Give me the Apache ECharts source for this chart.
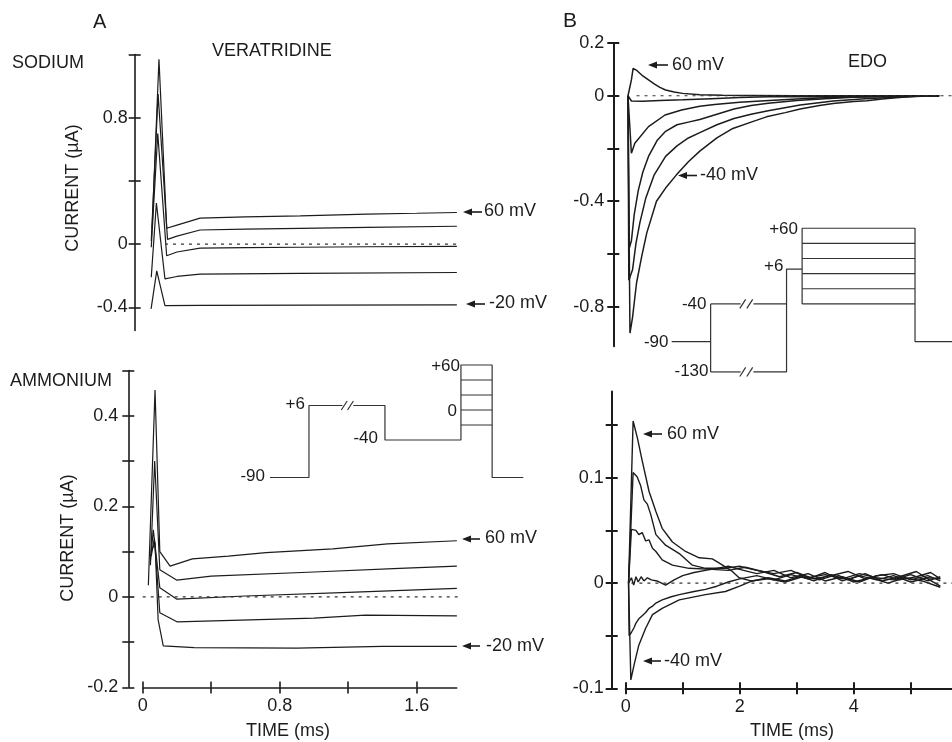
<!DOCTYPE html>
<html>
<head>
<meta charset="utf-8">
<script src="https://cdn.jsdelivr.net/npm/echarts@6/dist/echarts.min.js"></script>
<style>html,body{margin:0;padding:0;background:#fff}#c{width:952px;height:742px}</style>
</head>
<body>
<div id="c"></div>
<script>
// ---------- DATA (time in ms, current in µA) ----------
// Panel A, top: SODIUM + VERATRIDINE
const na60  = [[0.055,0.10],[0.095,1.17],[0.14,0.10],[0.2,0.12],[0.335,0.164],[0.6,0.172],[0.92,0.178],[1.31,0.189],[1.6,0.195],[1.835,0.20]];
const na40  = [[0.05,0.02],[0.09,0.95],[0.145,0.03],[0.2,0.05],[0.335,0.089],[0.6,0.095],[0.92,0.10],[1.31,0.106],[1.835,0.113]];
const na20  = [[0.05,-0.02],[0.088,0.70],[0.14,-0.074],[0.2,-0.05],[0.335,-0.026],[0.6,-0.022],[0.92,-0.02],[1.31,-0.017],[1.835,-0.015]];
const na0   = [[0.05,-0.21],[0.08,0.26],[0.13,-0.22],[0.2,-0.205],[0.335,-0.19],[0.92,-0.185],[1.835,-0.18]];
const naM20 = [[0.049,-0.41],[0.082,-0.17],[0.13,-0.39],[0.335,-0.388],[1.0,-0.386],[1.835,-0.385]];
// Panel A, bottom: AMMONIUM
const nh60  = [[0.033,0.026],[0.072,0.457],[0.1,0.10],[0.16,0.068],[0.29,0.084],[0.5,0.090],[0.72,0.098],[1.11,0.106],[1.43,0.117],[1.835,0.124]];
const nh40  = [[0.045,0.07],[0.07,0.30],[0.1,0.06],[0.2,0.037],[0.4,0.046],[1.0,0.055],[1.5,0.063],[1.835,0.068]];
const nh20  = [[0.045,0.08],[0.062,0.148],[0.1,0.02],[0.2,-0.005],[0.6,0.002],[1.2,0.01],[1.835,0.019]];
const nh0   = [[0.05,0.09],[0.068,0.13],[0.1,-0.035],[0.2,-0.055],[1.0,-0.047],[1.3,-0.04],[1.835,-0.042]];
const nhM20 = [[0.05,0.10],[0.072,0.12],[0.09,-0.05],[0.12,-0.108],[0.3,-0.112],[0.9,-0.113],[1.4,-0.109],[1.835,-0.109]];
// Panel B, top: EDO sodium
const edoT60  = [[0.04,0],[0.1,0.06],[0.13,0.104],[0.2,0.095],[0.3,0.075],[0.4,0.06],[0.5,0.045],[0.6,0.032],[0.7,0.022],[0.85,0.014],[1.0,0.009],[1.3,0.004],[1.7,0.002],[2.2,0.001],[3.0,0],[5.5,0]];
const edoT40  = [[0.04,0],[0.1,-0.02],[0.3,-0.021],[0.6,-0.018],[1.0,-0.015],[1.5,-0.011],[2.0,-0.007],[2.5,-0.004],[3.0,-0.003],[3.5,-0.004],[4.0,-0.002],[4.5,-0.001],[5.5,0]];
const edoT20  = [[0.04,0],[0.1,-0.218],[0.16,-0.18],[0.4,-0.117],[0.69,-0.073],[0.98,-0.054],[1.3,-0.04],[1.56,-0.033],[2.0,-0.025],[2.44,-0.019],[3.0,-0.012],[3.5,-0.008],[4.0,-0.005],[4.5,-0.003],[5.5,0]];
const edoT0   = [[0.04,0],[0.06,-0.58],[0.1,-0.55],[0.15,-0.45],[0.22,-0.36],[0.3,-0.29],[0.4,-0.23],[0.55,-0.17],[0.7,-0.135],[0.9,-0.11],[1.1,-0.1],[1.3,-0.09],[1.6,-0.07],[1.9,-0.05],[2.2,-0.037],[2.5,-0.028],[3.0,-0.018],[3.5,-0.011],[4.0,-0.006],[4.5,-0.003],[5.0,0],[5.5,0]];
const edoTM20 = [[0.04,0],[0.055,-0.70],[0.12,-0.66],[0.18,-0.56],[0.25,-0.48],[0.35,-0.39],[0.5,-0.30],[0.7,-0.23],[0.9,-0.19],[1.1,-0.16],[1.3,-0.14],[1.6,-0.11],[1.9,-0.086],[2.2,-0.07],[2.5,-0.057],[3.06,-0.035],[3.64,-0.02],[4.2,-0.011],[4.8,-0.005],[5.2,-0.002],[5.5,0]];
const edoTM40 = [[0.04,0],[0.075,-0.90],[0.12,-0.84],[0.19,-0.71],[0.28,-0.61],[0.37,-0.52],[0.54,-0.40],[0.7,-0.35],[0.89,-0.30],[1.1,-0.25],[1.3,-0.21],[1.6,-0.16],[1.88,-0.124],[2.2,-0.10],[2.47,-0.08],[2.8,-0.064],[3.06,-0.05],[3.4,-0.037],[3.64,-0.029],[4.0,-0.022],[4.23,-0.019],[4.5,-0.012],[4.8,-0.007],[5.1,-0.002],[5.5,0]];
// Panel B, bottom: EDO ammonium
const edoB60  = [[0.05,0],[0.13,0.154],[0.205,0.138],[0.29,0.116],[0.41,0.087],[0.53,0.068],[0.64,0.052],[0.82,0.039],[1.05,0.030],[1.29,0.024],[1.52,0.023],[1.70,0.017],[1.87,0.011],[1.99,0.005],[2.2,0.002],[2.5,0.004],[2.8,0.001],[3.1,0.006],[3.3,0.002],[3.6,0.008],[3.9,0.003],[4.2,0.009],[4.5,0.002],[4.8,0.006],[5.1,0.011],[5.3,0.004],[5.52,-0.003]];
const edoB40  = [[0.05,0],[0.13,0.105],[0.2,0.101],[0.26,0.093],[0.32,0.079],[0.38,0.075],[0.44,0.065],[0.53,0.046],[0.7,0.036],[0.94,0.028],[1.17,0.017],[1.4,0.014],[1.75,0.014],[2.0,0.016],[2.3,0.012],[2.6,0.009],[2.9,0.012],[3.2,0.005],[3.5,0.008],[3.8,0.004],[4.1,0.009],[4.4,0.005],[4.7,0.003],[5.0,0.008],[5.3,0.002],[5.52,0.006]];
const edoB20  = [[0.05,0],[0.1,0.051],[0.18,0.050],[0.23,0.046],[0.29,0.048],[0.35,0.040],[0.41,0.041],[0.47,0.033],[0.53,0.030],[0.64,0.022],[0.82,0.017],[1.11,0.014],[1.52,0.013],[1.8,0.012],[2.1,0.015],[2.4,0.011],[2.7,0.006],[3.0,0.010],[3.3,0.004],[3.6,0.007],[3.9,0.011],[4.2,0.004],[4.5,0.008],[4.8,0.003],[5.1,0.006],[5.35,0.010],[5.52,0.004]];
const edoB0   = [[0.05,0],[0.1,0.005],[0.14,-0.002],[0.18,0.006],[0.22,0.001],[0.27,0.006],[0.32,0.002],[0.38,0.005],[0.45,0.003],[0.55,0.002],[0.7,-0.002],[0.85,0.003],[1.0,0.007],[1.2,0.010],[1.4,0.012],[1.6,0.014],[1.8,0.016],[2.0,0.013],[2.3,0.009],[2.6,0.012],[2.9,0.005],[3.2,0.009],[3.5,0.002],[3.8,0.006],[4.1,0.001],[4.4,0.007],[4.7,0.009],[5.0,0.003],[5.3,0.007],[5.52,0.002]];
const edoBM20 = [[0.05,0],[0.06,-0.05],[0.1,-0.047],[0.15,-0.042],[0.18,-0.038],[0.23,-0.034],[0.29,-0.031],[0.35,-0.028],[0.41,-0.024],[0.47,-0.022],[0.53,-0.019],[0.64,-0.016],[0.8,-0.013],[0.94,-0.011],[1.2,-0.008],[1.4,-0.006],[1.6,-0.003],[1.8,0.001],[2.0,0.004],[2.3,0.007],[2.6,0.003],[2.9,0.008],[3.2,0.004],[3.5,0.010],[3.8,0.002],[4.1,0.007],[4.4,0.003],[4.7,0.007],[5.0,0.001],[5.3,0.005],[5.52,0.004]];
const edoBM40 = [[0.05,0],[0.09,-0.092],[0.15,-0.077],[0.23,-0.059],[0.35,-0.043],[0.47,-0.030],[0.64,-0.024],[0.94,-0.016],[1.4,-0.011],[1.75,-0.008],[2.0,-0.003],[2.22,0.002],[2.5,0.005],[2.8,0.002],[3.1,0.007],[3.4,0.003],[3.7,0.008],[4.0,0.001],[4.3,0.005],[4.6,0.000],[4.9,0.005],[5.2,0.002],[5.52,-0.004]];
// zero reference lines
const zeroA_top = [[0.13,0],[1.92,0]];
const zeroA_bot = [[0,0],[1.92,0]];
const zeroB_top = [[0.19,0],[5.725,0]];
const zeroB_bot = [[0.1,0],[5.725,0]];
// tick values / labels
const ticksA_top = [-0.4,0,0.4,0.8,1.2],  labelsA_top = [-0.4,0,0.8];
const ticksA_bot = [-0.2,-0.1,0,0.1,0.2,0.3,0.4,0.5], labelsA_bot = [-0.2,0,0.2,0.4];
const ticksA_x = [0,0.4,0.8,1.2,1.6], labelsA_x = [0,0.8,1.6];
const ticksB_top = [-0.8,-0.6,-0.4,-0.2,0,0.2], labelsB_top = [-0.8,-0.4,0,0.2];
const ticksB_bot = [-0.1,-0.05,0,0.05,0.1,0.15], labelsB_bot = [-0.1,0,0.1];
const ticksB_x = [0,1,2,3,4,5], labelsB_x = [0,2,4];
// voltage protocols (schematic time units, mV)
const protoA_1 = [[0,-90],[10,-90],[10,6],[18.6,6]];
const protoA_2 = [[21.4,6],[29.5,6],[29.5,-40],[49,-40],[49,60],[57,60],[57,-90],[65,-90]];
const protoA_steps = [-20,0,20,40];
const protoA_breaks = [[18.3,6],[19.9,6]];
const protoB_hold = [[0,-90],[10,-90]];
const protoB_split = [[10,-40],[10,-130]];
const protoB_a1 = [[10,-40],[17.7,-40]], protoB_a2 = [[21,-40],[29.5,-40]];
const protoB_b1 = [[10,-130],[17.7,-130]], protoB_b2 = [[21,-130],[29.5,-130],[29.5,6],[33.5,6]];
const protoB_box = [[33.5,-40],[33.5,60],[62.5,60],[62.5,-90],[72,-90]];
const protoB_steps = [-40,-20,0,20,40];
const protoB_breaks = [[17.5,-40],[19.3,-40],[17.5,-130],[19.3,-130]];

// ---------- STYLE ----------
const INK = '#1c1c1c';
const FONT = '"Liberation Sans", Arial, Helvetica, sans-serif';

function yPair(gi, min, max, ticks, labels, offset, lw, margin){
  const base = {type:'value', gridIndex:gi, min, max, offset, position:'left', splitLine:{show:false}};
  return [
    Object.assign({}, base, {
      axisLine:{show:true, onZero:false, lineStyle:{color:INK, width:lw}},
      axisTick:{show:true, inside:false, length:6, customValues:ticks, lineStyle:{color:INK, width:lw}},
      axisLabel:{show:true, customValues:labels, margin, color:INK, fontSize:18, fontFamily:FONT}
    }),
    Object.assign({}, base, {
      axisLine:{show:false, onZero:false},
      axisTick:{show:true, inside:true, length:6, customValues:ticks, lineStyle:{color:INK, width:lw}},
      axisLabel:{show:false}
    })
  ];
}
function xPair(gi, min, max, ticks, labels, lw, margin){
  const base = {type:'value', gridIndex:gi, min, max, position:'bottom', splitLine:{show:false}};
  return [
    Object.assign({}, base, {
      axisLine:{show:true, onZero:false, lineStyle:{color:INK, width:lw}},
      axisTick:{show:true, inside:false, length:6, customValues:ticks, lineStyle:{color:INK, width:lw}},
      axisLabel:{show:true, customValues:labels, margin, color:INK, fontSize:18, fontFamily:FONT}
    }),
    Object.assign({}, base, {
      axisLine:{show:false, onZero:false},
      axisTick:{show:true, inside:true, length:6, customValues:ticks, lineStyle:{color:INK, width:lw}},
      axisLabel:{show:false}
    })
  ];
}
function hiddenX(gi, min, max){ return {type:'value', gridIndex:gi, min, max, show:false}; }
function hiddenY(gi, min, max){ return {type:'value', gridIndex:gi, min, max, show:false}; }

function trace(data, xi, yi, w){
  return {type:'line', xAxisIndex:xi, yAxisIndex:yi, data, symbol:'none', showSymbol:false,
    lineStyle:{color:INK, width:w||1.3}, silent:true, animation:false, z:3};
}
function dashed(data, xi, yi){
  const s = trace(data, xi, yi, 1.2);
  s.lineStyle = {color:'#333', width:1.2, type:[3,5]};
  s.clip = false;
  return s;
}
function proto(data, xi, yi){ const s = trace(data, xi, yi, 1.2); s.lineStyle.color = '#333'; return s; }

const grids = [
  {left:142.7, top:54.5, width:314, height:276},     // A top
  {left:142.7, top:370.5, width:314, height:317},    // A bottom
  {left:625.7, top:43, width:326.3, height:303.3},   // B top
  {left:625.7, top:391.5, width:326.3, height:296.8},// B bottom
  {left:270, top:357.5, width:253.3, height:127.5},  // inset A
  {left:671.7, top:220.7, width:280.3, height:158.8} // inset B
].map(g => Object.assign({containLabel:false, outerBoundsMode:'none'}, g));

const xAxes = [
  hiddenX(0, 0, 1.834),                                          // 0
  ...xPair(1, 0, 1.834, ticksA_x, labelsA_x, 1.6, 10),           // 1,2
  hiddenX(2, 0, 5.725),                                          // 3
  ...xPair(3, 0, 5.725, ticksB_x, labelsB_x, 2, 10),             // 4,5
  hiddenX(4, 0, 65),                                             // 6
  hiddenX(5, 0, 72)                                              // 7
];
const yAxes = [
  ...yPair(0, -0.547, 1.2, ticksA_top, labelsA_top, 8, 1.6, 7),    // 0,1
  ...yPair(1, -0.2, 0.5, ticksA_bot, labelsA_bot, 14.4, 1.6, 10),  // 2,3
  ...yPair(2, -0.95, 0.2, ticksB_top, labelsB_top, 12.4, 2, 9),    // 4,5
  ...yPair(3, -0.1, 0.182, ticksB_bot, labelsB_bot, 14, 2, 8),     // 6,7
  hiddenY(4, -100, 70),                                          // 8
  hiddenY(5, -140, 70)                                           // 9
];

const series = [];
[na60, na40, na20, na0, naM20].forEach(d => series.push(trace(d, 0, 0, 1.2)));
series.push(dashed(zeroA_top, 0, 0));
[nh60, nh40, nh20, nh0, nhM20].forEach(d => series.push(trace(d, 1, 2, 1.2)));
series.push(dashed(zeroA_bot, 1, 2));
[edoT60, edoT40, edoT20, edoT0, edoTM20, edoTM40].forEach(d => series.push(trace(d, 3, 4, 1.5)));
series.push(dashed(zeroB_top, 3, 4));
[edoB60, edoB40, edoB20, edoB0, edoBM20, edoBM40].forEach(d => series.push(trace(d, 4, 6, 1.4)));
series.push(dashed(zeroB_bot, 4, 6));
// inset A
series.push(proto(protoA_1, 6, 8), proto(protoA_2, 6, 8));
protoA_steps.forEach(v => series.push(proto([[49, v],[57, v]], 6, 8)));
protoA_breaks.forEach(([x, v]) => series.push(proto([[x, v-6],[x+1.5, v+6]], 6, 8)));
// inset B
[protoB_hold, protoB_split, protoB_a1, protoB_a2, protoB_b1, protoB_b2, protoB_box].forEach(d => series.push(proto(d, 7, 9)));
protoB_steps.forEach(v => series.push(proto([[33.5, v],[62.5, v]], 7, 9)));
protoB_breaks.forEach(([x, v]) => series.push(proto([[x, v-6],[x+1.5, v+6]], 7, 9)));

// ---------- TEXT & ANNOTATIONS ----------
function txt(s, x, y, size, align, rot){
  return {type:'text', x, y, rotation: rot || 0, silent:true, z:10,
    style:{text:s, fontSize:size, fontFamily:FONT, fill:INK, align:align || 'left', verticalAlign:'middle'}};
}
function arrow(tipX, tailX, y){
  return [
    {type:'line', silent:true, z:10, shape:{x1:tipX+6, y1:y, x2:tailX, y2:y}, style:{stroke:INK, lineWidth:1.6}},
    {type:'polygon', silent:true, z:10, shape:{points:[[tipX,y],[tipX+9,y-3.6],[tipX+9,y+3.6]]}, style:{fill:INK}}
  ];
}
const graphic = [
  txt('A', 93, 22, 20), txt('B', 563, 21, 21),
  txt('SODIUM', 12, 63, 18), txt('VERATRIDINE', 212, 51, 18),
  txt('AMMONIUM', 10, 381, 18), txt('EDO', 848, 62, 18),
  txt('CURRENT (µA)', 73, 188, 18, 'center', Math.PI/2),
  txt('CURRENT (µA)', 68.5, 538, 18, 'center', Math.PI/2),
  txt('TIME (ms)', 288, 731, 18, 'center'), txt('TIME (ms)', 792, 731, 18, 'center'),
  ...arrow(463, 482, 212), txt('60 mV', 484, 211, 18),
  ...arrow(466, 485, 304), txt('-20 mV', 489, 303.5, 18),
  ...arrow(462, 480, 539), txt('60 mV', 485, 538.5, 18),
  ...arrow(462, 480, 646), txt('-20 mV', 486, 646, 18),
  ...arrow(648, 668, 65), txt('60 mV', 672, 65, 18),
  ...arrow(678, 697, 175.5), txt('-40 mV', 700, 175.5, 18),
  ...arrow(643, 662, 434), txt('60 mV', 667, 434, 18),
  ...arrow(643, 661, 661), txt('-40 mV', 664, 661, 18),
  // inset A labels
  txt('+6', 305, 404, 17, 'right'), txt('-40', 378, 438.5, 17, 'right'),
  txt('-90', 265, 476, 17, 'right'), txt('+60', 460, 366, 17, 'right'), txt('0', 457, 411, 17, 'right'),
  // inset B labels
  txt('+60', 798, 229.5, 17, 'right'), txt('+6', 783.5, 266.5, 17, 'right'),
  txt('-40', 706.5, 304.5, 17, 'right'), txt('-90', 668.5, 342.5, 17, 'right'),
  txt('-130', 708.5, 371, 17, 'right')
];

const chart = echarts.init(document.getElementById('c'), null, {renderer:'canvas'});
chart.setOption({
  backgroundColor:'#ffffff',
  animation:false,
  grid: grids,
  xAxis: xAxes,
  yAxis: yAxes,
  series,
  graphic
});
</script>
</body>
</html>
